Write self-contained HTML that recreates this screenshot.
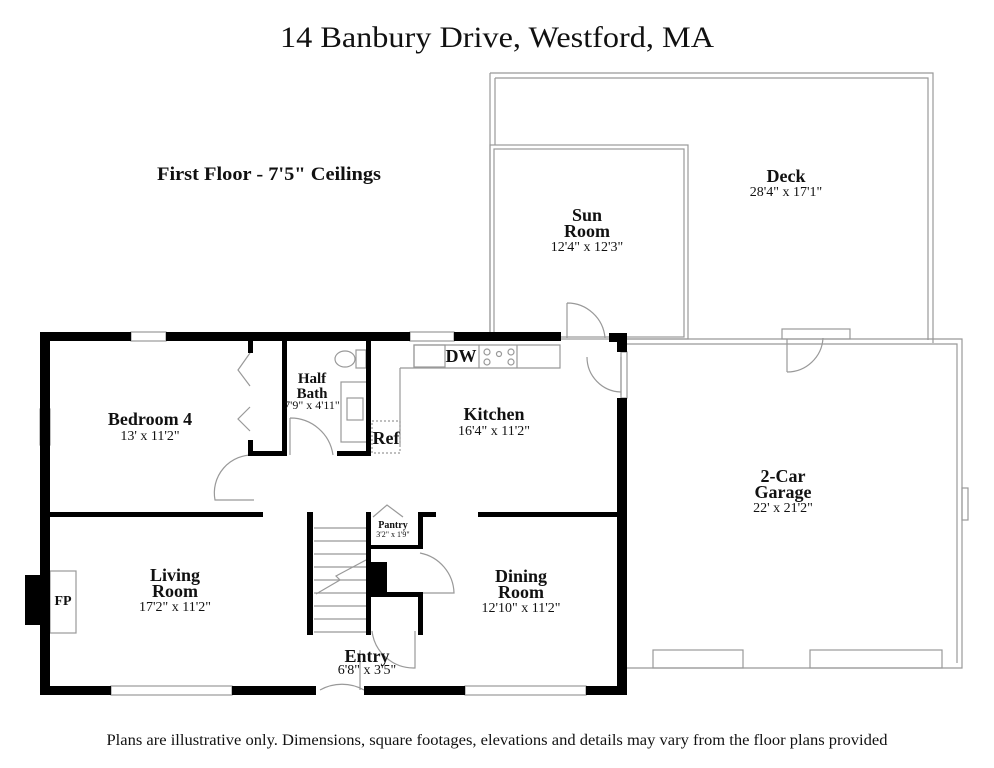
<!DOCTYPE html>
<html><head><meta charset="utf-8"><style>
html,body{margin:0;padding:0;background:#fff;}
svg{display:block;}
text{font-family:"Liberation Serif",serif;fill:#111;}
.b{font-weight:bold;}
</style></head><body>
<svg width="994" height="768" viewBox="0 0 994 768" xmlns="http://www.w3.org/2000/svg">
<text x="497" y="47" font-size="30" text-anchor="middle" textLength="434" lengthAdjust="spacingAndGlyphs">14 Banbury Drive, Westford, MA</text>
<text x="269" y="180" font-size="19" class="b" text-anchor="middle" textLength="224" lengthAdjust="spacingAndGlyphs">First Floor - 7'5" Ceilings</text>
<text x="497" y="745" font-size="16" text-anchor="middle" textLength="781" lengthAdjust="spacingAndGlyphs">Plans are illustrative only. Dimensions, square footages, elevations and details may vary from the floor plans provided</text>

<g fill="none" stroke="#999" stroke-width="1.2">
<path d="M490 73 H933 V343 M495 78 H928 V340"/>
<line x1="490" y1="73" x2="490" y2="335"/><line x1="495" y1="78" x2="495" y2="145"/>
<rect x="490" y="145" width="198" height="194"/>
<rect x="494" y="149" width="190" height="188"/>
<path d="M627 339 H962 V668 H627 M627 344 H957 V663"/>
<rect x="653" y="650" width="90" height="18"/><rect x="810" y="650" width="132" height="18"/>
<rect x="962" y="488" width="6" height="32"/>
<rect x="782" y="329" width="68" height="10"/>
<path d="M787 372 A36 36 0 0 0 823 338 M787 339 V372"/>
<path d="M567 303 A38 38 0 0 1 605 338 M567 303 V338"/>
<path d="M587 357 A35 35 0 0 0 621 392 M621 357 V395"/>
<rect x="621" y="352" width="6" height="46"/>
<path d="M414 345 H560 V368 H414 Z M400 368 V445 M400 368 H414"/>
<rect x="414" y="345" width="31" height="22"/><line x1="479" y1="345" x2="479" y2="368"/><line x1="517" y1="345" x2="517" y2="368"/>
<circle cx="487" cy="352" r="3"/><circle cx="499" cy="354" r="2.5"/><circle cx="511" cy="352" r="3"/><circle cx="487" cy="362" r="3"/><circle cx="511" cy="362" r="3"/>
<rect x="372" y="421" width="28" height="32" stroke-dasharray="2 2"/>
<ellipse cx="345" cy="359" rx="10" ry="8"/><rect x="356" y="350" width="10" height="18"/>
<rect x="341" y="382" width="26" height="60"/><rect x="347" y="398" width="16" height="22"/>
<path d="M290 418 A43 43 0 0 1 333 455 M290 418 V455"/>
<path d="M254 455 A38 38 0 0 0 215 500 H254"/>
<path d="M250 353 L238 370 L250 386 M250 407 L238 419 L250 431"/>
<path d="M372 631 A42 42 0 0 0 415 668 V631 M364 690 A45 45 0 0 0 320 690 M360 650 V690"/>
<path d="M420 553 A42 42 0 0 1 454 593 H420"/>
<path d="M314 528 H366 M314 541 H366 M314 554 H366 M314 567 H366 M314 580 H366 M314 593 H366 M314 606 H366 M314 619 H366 M314 632 H366"/>
<path d="M316 594 L340 580 L336 576 L366 560"/>
<path d="M373 517 L387 505 L403 517"/>
<rect x="50" y="571" width="26" height="62"/>
<rect x="131" y="332" width="35" height="9"/><rect x="410" y="332" width="44" height="9"/>
<rect x="40" y="409" width="10" height="36"/>
<rect x="111" y="686" width="121" height="9"/><rect x="465" y="686" width="121" height="9"/>
</g>

<g fill="#000">
<rect x="40" y="332" width="10" height="363"/>
<rect x="40" y="332" width="91" height="9"/><rect x="166" y="332" width="244" height="9"/><rect x="454" y="332" width="107" height="9"/>
<rect x="609" y="333" width="18" height="9"/><rect x="617" y="333" width="10" height="19"/>
<rect x="617" y="398" width="10" height="297"/>
<rect x="40" y="686" width="71" height="9"/><rect x="232" y="686" width="84" height="9"/><rect x="364" y="686" width="101" height="9"/><rect x="586" y="686" width="41" height="9"/>
<rect x="25" y="575" width="15" height="50"/>
<rect x="50" y="512" width="213" height="5"/>
<rect x="478" y="512" width="140" height="5"/>
<rect x="248" y="341" width="5" height="12"/><rect x="248" y="440" width="5" height="16"/>
<rect x="248" y="451" width="37" height="5"/>
<rect x="282" y="341" width="5" height="115"/>
<rect x="366" y="341" width="5" height="115"/><rect x="337" y="451" width="34" height="5"/>
<rect x="307" y="512" width="6" height="123"/>
<rect x="366" y="512" width="5" height="123"/>
<rect x="418" y="512" width="18" height="5"/><rect x="418" y="512" width="5" height="37"/>
<rect x="370" y="545" width="50" height="4"/>
<rect x="370" y="562" width="17" height="31"/>
<rect x="370" y="592" width="52" height="5"/><rect x="418" y="592" width="5" height="43"/>
</g>

<g class="b" text-anchor="middle">
<text x="150" y="425" font-size="18">Bedroom 4</text>
<text x="312" y="383" font-size="15">Half</text>
<text x="312" y="398" font-size="15">Bath</text>
<text x="494" y="420" font-size="18">Kitchen</text>
<text x="461" y="362" font-size="18">DW</text>
<text x="386" y="444" font-size="18">Ref</text>
<text x="175" y="581" font-size="18">Living</text>
<text x="175" y="597" font-size="18">Room</text>
<text x="521" y="582" font-size="18">Dining</text>
<text x="521" y="598" font-size="18">Room</text>
<text x="367" y="662" font-size="18">Entry</text>
<text x="393" y="528" font-size="10">Pantry</text>
<text x="63" y="605" font-size="14">FP</text>
<text x="587" y="221" font-size="18">Sun</text>
<text x="587" y="237" font-size="18">Room</text>
<text x="786" y="182" font-size="18">Deck</text>
<text x="783" y="482" font-size="18">2-Car</text>
<text x="783" y="498" font-size="18">Garage</text>
</g>
<g text-anchor="middle" font-size="14">
<text x="150" y="440">13' x 11'2"</text>
<text x="312" y="409" font-size="12">7'9" x 4'11"</text>
<text x="494" y="435">16'4" x 11'2"</text>
<text x="175" y="611">17'2" x 11'2"</text>
<text x="521" y="612">12'10" x 11'2"</text>
<text x="367" y="674">6'8" x 3'5"</text>
<text x="393" y="537" font-size="8">3'2" x 1'9"</text>
<text x="587" y="251">12'4" x 12'3"</text>
<text x="786" y="196">28'4" x 17'1"</text>
<text x="783" y="512">22' x 21'2"</text>
</g>
</svg>
</body></html>
